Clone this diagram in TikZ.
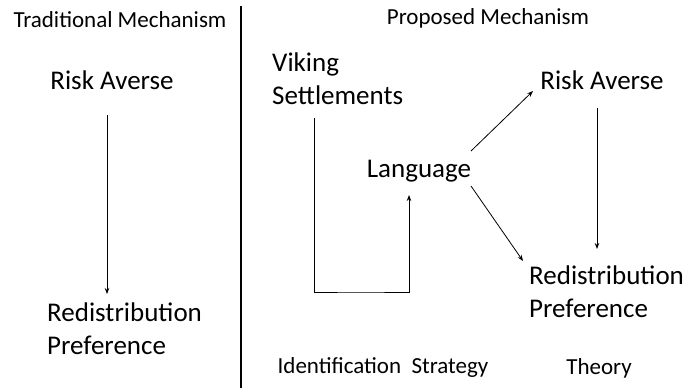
\documentclass[tikz,border=0pt]{standalone}
\usepackage{fontspec}
\setmainfont{Carlito}
\usepackage{tikz}
\usetikzlibrary{arrows.meta, positioning, calc}

\begin{document}
\begin{tikzpicture}[
    x=1pt, y=-1pt,
    heading/.style={font=\fontsize{23}{26}\selectfont, inner sep=0pt},
    concept/.style={font=\fontsize{27}{33}\selectfont, inner sep=0pt, align=left},
    arrow/.style={line width=0.8pt, -{Stealth[length=6pt, width=4.5pt]}},
]
\useasboundingbox (0,0) rectangle (685,388);

% Column headings
\node[heading] (tradhead) at (120,20) {Traditional Mechanism};
\node[heading] (prophead) at (488,18) {Proposed Mechanism};

% Divider
\draw[line width=1.2pt] (241,6) -- (241,388);

% Traditional mechanism
\node[concept] (riskL) at (112,80) {Risk Averse};
\node[concept, anchor=west] (redisL) at (47,329) {Redistribution\\Preference};
\draw[arrow] (107,115) -- (107,294);

% Proposed mechanism
\node[concept, anchor=west] (viking) at (272,79) {Viking\\Settlements};
\node[concept] (language) at (419,171) {Language};
\node[concept] (riskR) at (602,80) {Risk Averse};
\node[concept, anchor=west] (redisR) at (529,292) {Redistribution\\Preference};

% Identification path
\coordinate (bend) at (360,292);
\draw[line width=0.8pt, -{Stealth[length=6pt, width=4.5pt]}]
    (314,118) |- (bend) -| (409,195);

% Theory arrows
\draw[arrow] (471,151) -- (533,91);
\draw[arrow] (471,186) -- (523,261);
\draw[arrow] (597,108) -- (597,249);

% Bottom labels
\node[heading] (ident) at (383,367) {Identification\ \ Strategy};
\node[heading] (theory) at (599,368) {Theory};

\end{tikzpicture}
\end{document}
